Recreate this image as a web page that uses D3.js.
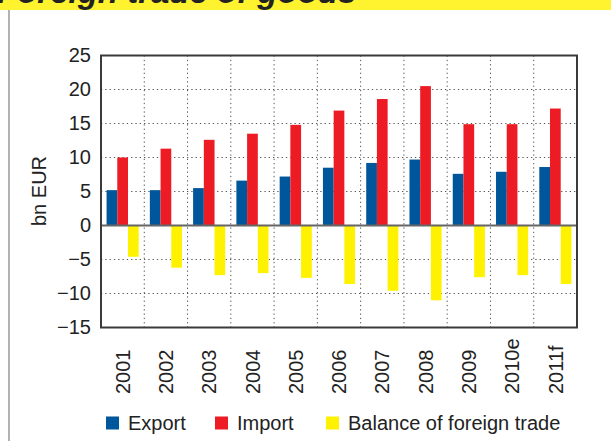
<!DOCTYPE html>
<html>
<head>
<meta charset="utf-8">
<script src="https://cdn.jsdelivr.net/npm/d3@7"></script>
<style>
  body { margin: 0; background: #fff; }
  svg { display: block; font-family: "Liberation Sans", Arial, sans-serif; }
</style>
</head>
<body>
<svg id="chart" width="611" height="441"></svg>
<script>
// chart data (bn EUR)
var years = ['2001', '2002', '2003', '2004', '2005', '2006', '2007', '2008', '2009', '2010e', '2011f'];
var exportVals = [5.2, 5.2, 5.5, 6.6, 7.2, 8.5, 9.2, 9.7, 7.6, 7.9, 8.6];
var importVals = [10.0, 11.3, 12.6, 13.5, 14.8, 16.9, 18.6, 20.5, 14.9, 14.9, 17.2];
var balanceVals = [-4.6, -6.2, -7.3, -7.0, -7.7, -8.6, -9.6, -11.0, -7.6, -7.3, -8.6];
var yTicks = [25, 20, 15, 10, 5, 0, -5, -10, -15];
var seriesNames = ['Export', 'Import', 'Balance of foreign trade'];
var seriesColors = ['#00569a', '#ed1c24', '#fff200'];

var svg = d3.select('#chart');

// title band, cut at the top edge
svg.append('rect')
    .attr('x', 0).attr('y', 0)
    .attr('width', 611).attr('height', 10)
    .style('fill', '#fff22e');
svg.append('text')
    .attr('x', -3).attr('y', 3)
    .style('font-size', '33px')
    .style('font-weight', 'bold')
    .style('font-style', 'italic')
    .style('fill', '#222')
    .text('Foreign trade of goods');

// left rule
svg.append('line')
    .attr('x1', 9).attr('x2', 9)
    .attr('y1', 10).attr('y2', 441)
    .style('stroke', '#999')
    .style('stroke-width', 1.5);

var plotLeft = 101, plotRight = 577, plotTop = 55.5, plotBottom = 327.5;

var x = d3.scaleBand().domain(years).range([plotLeft, plotRight]);
var xs = d3.scaleBand().domain(seriesNames).range([0, x.bandwidth()]).paddingOuter(0.52);
var y = d3.scaleLinear().domain([-15, 25]).range([plotBottom, plotTop]);

// dotted grid
var grid = svg.append('g')
    .style('stroke', '#555')
    .style('stroke-width', 1)
    .style('stroke-dasharray', '1.3,3');
grid.selectAll('line.h')
    .data(yTicks.filter(function (d) { return d !== 0 && d !== 25 && d !== -15; }))
    .enter().append('line')
    .attr('class', 'h')
    .attr('x1', plotLeft).attr('x2', plotRight)
    .attr('y1', function (d) { return y(d); })
    .attr('y2', function (d) { return y(d); });
grid.selectAll('line.v')
    .data(years.slice(1))
    .enter().append('line')
    .attr('class', 'v')
    .attr('x1', function (d) { return x(d); })
    .attr('x2', function (d) { return x(d); })
    .attr('y1', plotTop).attr('y2', plotBottom);

// bars
var allVals = [exportVals, importVals, balanceVals];
seriesNames.forEach(function (name, i) {
    svg.append('g')
        .selectAll('rect')
        .data(allVals[i])
        .enter().append('rect')
        .attr('x', function (d, j) { return x(years[j]) + xs(name); })
        .attr('width', xs.bandwidth())
        .attr('y', function (d) { return y(Math.max(0, d)); })
        .attr('height', function (d) { return Math.abs(y(d) - y(0)); })
        .style('fill', seriesColors[i]);
});

// zero line
svg.append('line')
    .attr('x1', plotLeft).attr('x2', plotRight)
    .attr('y1', y(0)).attr('y2', y(0))
    .style('stroke', '#666')
    .style('stroke-width', 1.8);

// frame
svg.append('rect')
    .attr('x', plotLeft).attr('y', plotTop)
    .attr('width', plotRight - plotLeft).attr('height', plotBottom - plotTop)
    .style('fill', 'none')
    .style('stroke', '#3a3a3a')
    .style('stroke-width', 2);

// y axis labels
var yAxis = d3.axisLeft(y).tickValues(yTicks).tickSize(0).tickPadding(10)
    .tickFormat(function (d) { return d < 0 ? '\u2212' + Math.abs(d) : d; });
var yg = svg.append('g')
    .attr('transform', 'translate(' + plotLeft + ',0)')
    .call(yAxis);
yg.select('.domain').remove();
yg.selectAll('text')
    .style('font-size', '20px')
    .style('font-family', '"Liberation Sans", Arial, sans-serif')
    .style('fill', '#222');

svg.append('text')
    .attr('transform', 'translate(46,191) rotate(-90)')
    .attr('text-anchor', 'middle')
    .style('font-size', '20px')
    .style('fill', '#222')
    .text('bn EUR');

// x axis labels, rotated, bottoms aligned
var xAxis = d3.axisBottom(x).tickSize(0).tickPadding(0);
var xg = svg.append('g')
    .attr('transform', 'translate(0,' + plotBottom + ')')
    .call(xAxis);
xg.select('.domain').remove();
xg.selectAll('text')
    .attr('transform', 'rotate(-90)')
    .attr('x', -66.5)
    .attr('y', 0)
    .attr('dy', '0.36em')
    .attr('text-anchor', 'start')
    .style('font-size', '20px')
    .style('font-family', '"Liberation Sans", Arial, sans-serif')
    .style('fill', '#222');

// legend
var legendX = [106, 215, 326];
var legend = svg.append('g');
seriesNames.forEach(function (name, i) {
    legend.append('rect')
        .attr('x', legendX[i]).attr('y', 416.5)
        .attr('width', 13).attr('height', 13)
        .style('fill', seriesColors[i]);
    legend.append('text')
        .attr('x', legendX[i] + 22).attr('y', 430)
        .style('font-size', '20px')
        .style('fill', '#222')
        .text(name);
});
</script>
</body>
</html>
